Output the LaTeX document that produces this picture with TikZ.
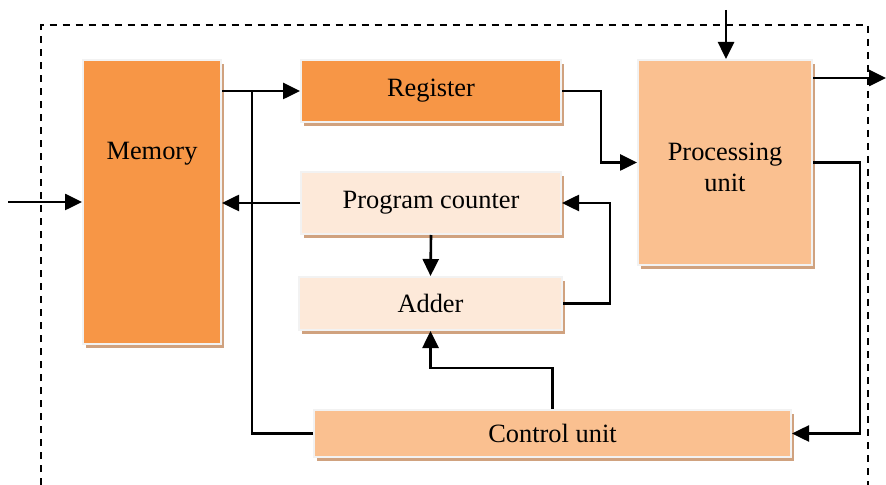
\documentclass[tikz,border=0pt]{standalone}
\usepackage{fontspec}
\setmainfont{Liberation Serif}
\usetikzlibrary{arrows.meta,shadows}

\definecolor{darkorange}{HTML}{F79646}
\definecolor{lightorange}{HTML}{FAC090}
\definecolor{paleorange}{HTML}{FDE9D9}
\definecolor{edgegray}{HTML}{F2F2F2}
\definecolor{shadowtan}{HTML}{D0A27F}

\begin{document}
\begin{tikzpicture}[x=0.5pt, y=-0.5pt, font=\fontsize{13.2}{15.5}\selectfont]
			\tikzstyle{unit}  = [rectangle, draw=edgegray, line width=1pt, inner sep=0pt, align=center,
				drop shadow={shadow xshift=1.5pt, shadow yshift=-2pt, fill=shadowtan, opacity=1}]
			\tikzstyle{wire}  = [line width=1.3pt, -{Triangle[length=8.5pt, width=8pt]}]
			\tikzstyle{plain} = [line width=1.3pt]

			\useasboundingbox (0,0) rectangle (886,485);

			% system boundary, open at the bottom
			\draw[line width=1pt, dash pattern=on 3.5pt off 3pt] (41,485) -- (41,25.5) -- (868,25.5) -- (868,485);

			\node[unit, fill=darkorange, minimum width=69pt, minimum height=142pt, text height=9pt, text depth=51pt] (memory) at (152,202) {Memory};
			\node[unit, fill=darkorange, minimum width=130pt, minimum height=31pt] (register) at (431,91) {Register};
			\node[unit, fill=paleorange, minimum width=130pt, minimum height=31pt] (pc) at (431,203) {Program counter};
			\node[unit, fill=paleorange, minimum width=131.5pt, minimum height=26.5pt] (adder) at (430.5,303.5) {Adder};
			\node[unit, fill=lightorange, minimum width=87pt, minimum height=102.5pt, text height=29.5pt, text depth=0pt] (pu) at (725,162.5) {Processing\\unit};
			\node[unit, fill=lightorange, minimum width=238.5pt, minimum height=23.5pt] (control) at (552.5,433.5) {Control unit};

			\coordinate (memin) at (8,202);
			\coordinate (puin) at (726,10);
			\coordinate (puout) at (886,78);
			\coordinate (tap) at (252,91);

			% data paths
			\draw[wire] (memin) -- (memin -| memory.west);
			\draw[wire] (register.west -| memory.east) -- (register.west);
			\draw[wire] (pc.west) -- (pc.west -| memory.east);
			\draw[wire] (register.east) -- ++(39,0) |- (pu.west);
			\draw[wire] (puin) -- (puin |- pu.north);
			\draw[wire] (pu.east |- puout) -- (puout);
			\draw[wire] (pu.east) -- ++(47,0) |- (control.east);

			% counter loop
			\draw[wire] (pc.south) -- (adder.north);
			\draw[wire] (adder.east) -- ++(47,0) |- (pc.east);
			\draw[wire] (control.north) -- ++(0,-41) -| (adder.south);
			\draw[plain] (control.west) -| (tap);
		\end{tikzpicture}
\end{document}
